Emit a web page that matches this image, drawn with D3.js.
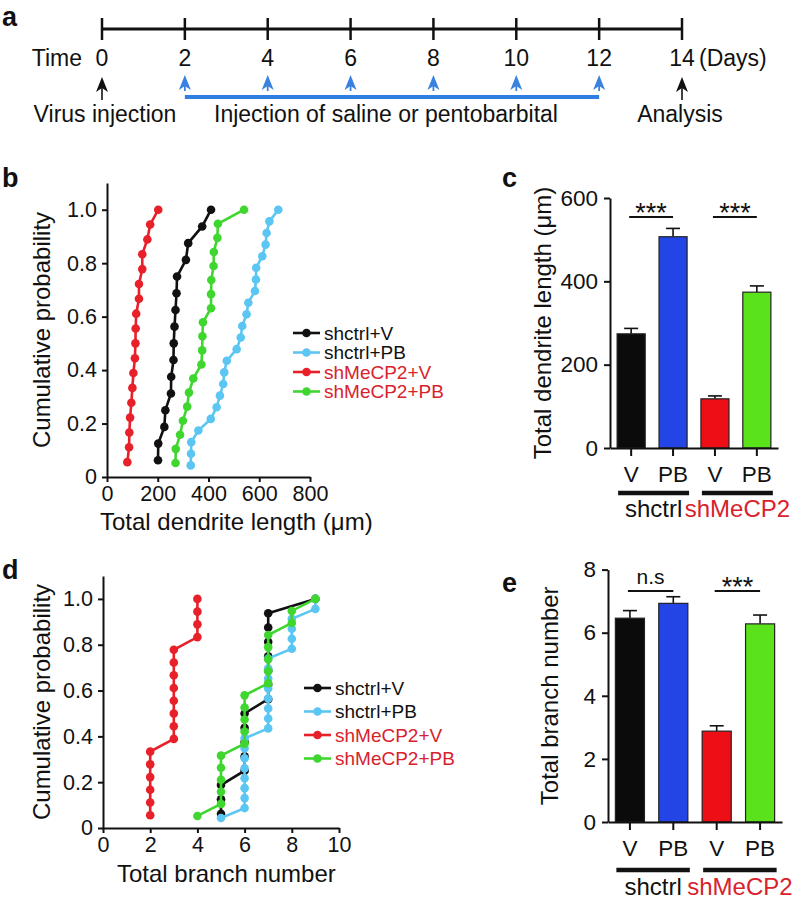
<!DOCTYPE html>
<html><head><meta charset="utf-8">
<script src="https://cdn.jsdelivr.net/npm/d3@7"></script>
<style>
body{margin:0;background:#fff}
svg{display:block}
text{font-family:Arial,"Liberation Sans",Helvetica,sans-serif;fill:#111}
</style>
</head><body>
<svg id="fig" width="799" height="907"></svg>
<script>
// ---------- DATA ----------
const timeDays = [0, 2, 4, 6, 8, 10, 12, 14];
const injectionDays = [2, 4, 6, 8, 10, 12];
const seriesNames = ["shctrl+V", "shctrl+PB", "shMeCP2+V", "shMeCP2+PB"];
const seriesColors = ["#111111", "#5cc6f2", "#e8202a", "#3fd62f"];
const legendTextColors = ["#111111", "#111111", "#d8222c", "#d8222c"];

// panel b: total dendrite length (um), sorted per cell
const lengthShctrlV = [201, 202, 226, 230, 252, 253, 262, 263, 266, 270, 274, 276, 311, 320, 375, 410];
const lengthShctrlPB = [330, 331, 332, 360, 409, 432, 445, 458, 462, 472, 511, 527, 533, 550, 557, 583, 587, 588, 612, 625, 629, 640, 675];
const lengthShMeCP2V = [80, 87, 88, 91, 96, 100, 104, 110, 112, 113, 115, 126, 126, 139, 139, 159, 170, 202];
const lengthShMeCP2PB = [270, 271, 288, 299, 316, 323, 340, 372, 375, 376, 378, 410, 410, 411, 420, 421, 435, 437, 540];

// panel d: total branch number per cell
const branchShctrlV = [5, 5, 5, 6, 6, 6, 6, 6, 7, 7, 7, 7, 7, 7, 7, 9];
const branchShctrlPB = [5, 6, 6, 6, 6, 6, 6, 6, 6, 7, 7, 7, 7, 7, 7, 7, 7, 8, 8, 8, 8, 9, 9];
const branchShMeCP2V = [2, 2, 2, 2, 2, 2, 3, 3, 3, 3, 3, 3, 3, 3, 4, 4, 4, 4];
const branchShMeCP2PB = [4, 5, 5, 5, 5, 5, 6, 6, 6, 6, 6, 7, 7, 7, 7, 7, 8, 8, 9];

// panels c and e: mean +/- SEM
const barLabels = ["V", "PB", "V", "PB"];
const barColors = ["#0b0b0b", "#2345e6", "#ee0f16", "#5ae21a"];
const groupLabels = ["shctrl", "shMeCP2"];
const groupColors = ["#111111", "#d8222c"];
const lengthMean = [274, 507, 118, 374];
const lengthSEM = [13, 20, 7, 15];
const branchMean = [6.46, 6.93, 2.88, 6.28];
const branchSEM = [0.24, 0.21, 0.17, 0.28];

const probTicks = [0, 0.2, 0.4, 0.6, 0.8, 1.0];
const lengthTicksB = [0, 200, 400, 600, 800];
const branchTicksD = [0, 2, 4, 6, 8, 10];
const lengthTicksC = [0, 200, 400, 600];
const branchTicksE = [0, 2, 4, 6, 8];

// ---------- DRAW ----------
const svg = d3.select("#fig");
const FONT_TITLE = 24;

function panelLetter(t, x, y) {
  svg.append("text").attr("x", x).attr("y", y).text(t)
    .style("font-size", "27px").style("font-weight", "bold");
}

// ===== Panel a: timeline =====
panelLetter("a", 2, 26);
const xt = d3.scaleLinear().domain([0, 14]).range([102, 682]);
const ga = svg.append("g");
ga.append("line").attr("x1", xt(0)).attr("x2", xt(14)).attr("y1", 29).attr("y2", 29)
  .attr("stroke", "#111").attr("stroke-width", 3);
ga.selectAll(".tt").data(timeDays).join("line")
  .attr("x1", d => xt(d)).attr("x2", d => xt(d)).attr("y1", 18).attr("y2", 40)
  .attr("stroke", "#111").attr("stroke-width", 2.5);
ga.selectAll(".tl").data(timeDays).join("text")
  .attr("x", d => xt(d)).attr("y", 66).attr("text-anchor", "middle")
  .style("font-size", "23px").text(d => d);
ga.append("text").attr("x", 82).attr("y", 66).attr("text-anchor", "end").style("font-size", "23px").text("Time");
ga.append("text").attr("x", xt(14) + 17).attr("y", 66).attr("text-anchor", "start").style("font-size", "23px").text("(Days)");

function arrow(x, tip, tail, color, sw) {
  ga.append("line").attr("x1", x).attr("x2", x).attr("y1", tip + 8).attr("y2", tail)
    .attr("stroke", color).attr("stroke-width", sw);
  ga.append("path")
    .attr("d", `M${x},${tip} L${x - 6},${tip + 15} L${x},${tip + 11} L${x + 6},${tip + 15} Z`)
    .attr("fill", color);
}
arrow(xt(0), 77, 100, "#111", 1.6);
arrow(xt(14), 77, 100, "#111", 1.6);
injectionDays.forEach(d => arrow(xt(d), 75, 91, "#3a82e0", 1.8));
ga.append("line").attr("x1", xt(2)).attr("x2", xt(12)).attr("y1", 97).attr("y2", 97)
  .attr("stroke", "#2f7fe3").attr("stroke-width", 4);
ga.append("text").attr("x", xt(0) + 3).attr("y", 122).attr("text-anchor", "middle").style("font-size", "23px").text("Virus injection");
ga.append("text").attr("x", (xt(2) + xt(12)) / 2 - 6).attr("y", 122).attr("text-anchor", "middle").style("font-size", "23px").text("Injection of saline or pentobarbital");
ga.append("text").attr("x", xt(14) - 2).attr("y", 122).attr("text-anchor", "middle").style("font-size", "23px").text("Analysis");

// ===== ECDF panels =====
function ecdfPanel(opt) {
  const g = svg.append("g");
  const x = d3.scaleLinear().domain(opt.xDomain).range(opt.xRange);
  const y = d3.scaleLinear().domain([0, 1.1]).range(opt.yRange);
  const ax = g.append("g").attr("transform", `translate(0,${opt.yRange[0]})`)
    .call(d3.axisBottom(x).tickValues(opt.xTicks).tickSize(5).tickSizeOuter(0).tickPadding(4));
  const ay = g.append("g").attr("transform", `translate(${opt.xRange[0]},0)`)
    .call(d3.axisLeft(y).tickValues(probTicks).tickSize(5).tickSizeOuter(0).tickPadding(5)
      .tickFormat(d => d === 0 ? "0" : d.toFixed(1)));
  [ax, ay].forEach(a => {
    a.select(".domain").attr("stroke", "#111").attr("stroke-width", 2);
    a.selectAll(".tick line").attr("stroke", "#111").attr("stroke-width", 2);
    a.selectAll("text").style("font-size", "21.5px").attr("fill", "#111");
  });
  const line = d3.line().x(d => x(d.v)).y(d => y(d.p));
  opt.series.forEach((arr, k) => {
    const pts = arr.map((v, i) => ({ v: v, p: (i + 1) / arr.length }));
    g.append("path").datum(pts).attr("d", line).attr("fill", "none")
      .attr("stroke", seriesColors[k]).attr("stroke-width", 2.6);
    g.selectAll(null).data(pts).join("circle")
      .attr("cx", d => x(d.v)).attr("cy", d => y(d.p)).attr("r", 4.3)
      .attr("fill", seriesColors[k]);
  });
  // legend
  seriesNames.forEach((s, k) => {
    const ly = opt.legY + k * opt.legStep;
    g.append("line").attr("x1", opt.legX).attr("x2", opt.legX + 27).attr("y1", ly).attr("y2", ly)
      .attr("stroke", seriesColors[k]).attr("stroke-width", 2.6);
    g.append("circle").attr("cx", opt.legX + 13.5).attr("cy", ly).attr("r", 4.3).attr("fill", seriesColors[k]);
    g.append("text").attr("x", opt.legX + 31).attr("y", ly).attr("dy", "0.36em")
      .style("font-size", "19px").style("fill", legendTextColors[k]).text(s);
  });
  g.append("text").attr("x", opt.xLabelX).attr("y", opt.xLabelY).style("font-size", FONT_TITLE + "px").text(opt.xLabel);
  g.append("text").attr("transform", `translate(${opt.yLabelX},${(opt.yRange[0] + opt.yRange[1]) / 2}) rotate(-90)`)
    .attr("text-anchor", "middle").style("font-size", FONT_TITLE + "px").text("Cumulative probability");
}

panelLetter("b", 2, 187);
ecdfPanel({
  xDomain: [0, 800], xRange: [107, 310], yRange: [477, 183], xTicks: lengthTicksB,
  series: [lengthShctrlV, lengthShctrlPB, lengthShMeCP2V, lengthShMeCP2PB],
  legX: 293, legY: 333, legStep: 19.5,
  xLabel: "Total dendrite length (\u03bcm)", xLabelX: 100, xLabelY: 530, yLabelX: 50
});

panelLetter("d", 2, 579);
ecdfPanel({
  xDomain: [0, 10], xRange: [103, 339], yRange: [828, 576], xTicks: branchTicksD,
  series: [branchShctrlV, branchShctrlPB, branchShMeCP2V, branchShMeCP2PB],
  legX: 304, legY: 688, legStep: 23.5,
  xLabel: "Total branch number", xLabelX: 117, xLabelY: 882, yLabelX: 50
});

// ===== Bar panels =====
function barPanel(opt) {
  const g = svg.append("g");
  const x = d3.scaleBand().domain(d3.range(4)).range(opt.xRange).paddingInner(0.33).paddingOuter(0.17);
  const y = d3.scaleLinear().domain(opt.yDomain).range(opt.yRange);
  const bw = x.bandwidth();
  // error bars
  g.selectAll(".err").data(opt.mean).join("line")
    .attr("x1", (d, i) => x(i) + bw / 2).attr("x2", (d, i) => x(i) + bw / 2)
    .attr("y1", d => y(d)).attr("y2", (d, i) => y(d + opt.sem[i]))
    .attr("stroke", "#111").attr("stroke-width", 1.6);
  g.selectAll(".cap").data(opt.mean).join("line")
    .attr("x1", (d, i) => x(i) + bw / 2 - 7).attr("x2", (d, i) => x(i) + bw / 2 + 7)
    .attr("y1", (d, i) => y(d + opt.sem[i])).attr("y2", (d, i) => y(d + opt.sem[i]))
    .attr("stroke", "#111").attr("stroke-width", 1.6);
  g.selectAll(".bar").data(opt.mean).join("rect")
    .attr("x", (d, i) => x(i)).attr("width", bw)
    .attr("y", d => y(d)).attr("height", d => y(0) - y(d))
    .attr("fill", (d, i) => barColors[i]).attr("stroke", "#222").attr("stroke-width", 1.2);
  const ax = g.append("g").attr("transform", `translate(0,${opt.yRange[0]})`)
    .call(d3.axisBottom(x).tickSize(8).tickSizeOuter(0).tickPadding(10).tickFormat(i => barLabels[i]));
  const ay = g.append("g").attr("transform", `translate(${opt.xRange[0]},0)`)
    .call(d3.axisLeft(y).tickValues(opt.yTicks).tickSize(6).tickSizeOuter(0).tickPadding(6));
  [ax, ay].forEach(a => {
    a.select(".domain").attr("stroke", "#111").attr("stroke-width", 2);
    a.selectAll(".tick line").attr("stroke", "#111").attr("stroke-width", 2);
    a.selectAll("text").style("font-size", "22.5px").attr("fill", "#111");
  });
  // group lines and labels
  [[0, 1], [2, 3]].forEach((pair, gi) => {
    const x1 = x(pair[0]) + 1, x2 = x(pair[1]) + bw + 2;
    g.append("line").attr("x1", x1).attr("x2", x2).attr("y1", opt.groupLineY).attr("y2", opt.groupLineY)
      .attr("stroke", "#111").attr("stroke-width", 4.5);
    g.append("text").attr("x", (x1 + x2) / 2).attr("y", opt.groupLabelY).attr("text-anchor", "middle")
      .style("font-size", "24px").style("fill", groupColors[gi]).text(groupLabels[gi]);
  });
  // significance
  opt.sig.forEach((s, gi) => {
    const pair = gi === 0 ? [0, 1] : [2, 3];
    const x1 = x(pair[0]) + bw / 2 - 2, x2 = x(pair[1]) + bw / 2;
    g.append("line").attr("x1", x1).attr("x2", x2).attr("y1", opt.sigY).attr("y2", opt.sigY)
      .attr("stroke", "#111").attr("stroke-width", 2);
    const isStar = s === "***";
    g.append("text").attr("x", (x1 + x2) / 2).attr("y", isStar ? opt.sigY + 5 : opt.sigY - 7)
      .attr("text-anchor", "middle").style("font-size", isStar ? "27px" : "21px").text(s);
  });
  g.append("text").attr("transform", `translate(${opt.yLabelX},${(opt.yRange[0] + opt.yRange[1]) / 2}) rotate(-90)`)
    .attr("text-anchor", "middle").style("font-size", FONT_TITLE + "px").text(opt.yLabel);
}

panelLetter("c", 502, 187);
barPanel({
  xRange: [610, 778], yDomain: [0, 600], yRange: [448, 198], yTicks: lengthTicksC,
  mean: lengthMean, sem: lengthSEM, groupLineY: 493, groupLabelY: 517,
  sig: ["***", "***"], sigY: 217, yLabel: "Total dendrite length (\u03bcm)", yLabelX: 551
});

panelLetter("e", 502, 592);
barPanel({
  xRange: [608, 782], yDomain: [0, 8], yRange: [822, 569.6], yTicks: branchTicksE,
  mean: branchMean, sem: branchSEM, groupLineY: 870, groupLabelY: 895,
  sig: ["n.s", "***"], sigY: 591, yLabel: "Total branch number", yLabelX: 558
});
</script>
</body></html>
